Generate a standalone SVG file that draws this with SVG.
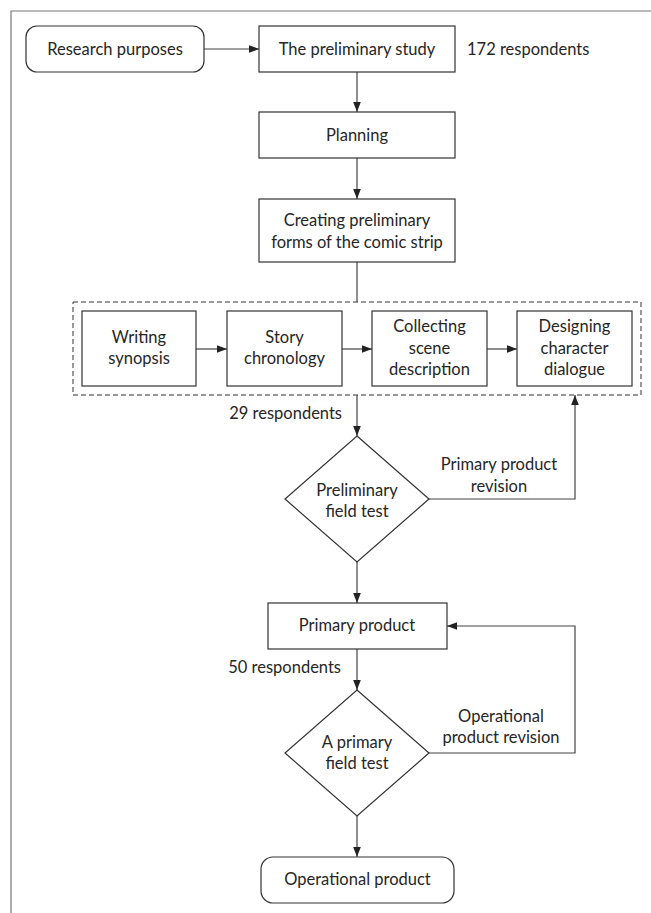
<svg xmlns="http://www.w3.org/2000/svg" width="651" height="913" viewBox="0 0 651 913">
<style>
  .box { fill: #ffffff; stroke: #333333; stroke-width: 1.2; }
  .frame { fill: none; stroke: #777777; stroke-width: 1.2; }
  .dash { fill: none; stroke: #333333; stroke-width: 1; stroke-dasharray: 5 3; }
  .line { fill: none; stroke: #444444; stroke-width: 1.2; }
  text { font-family: "Lato", "Liberation Sans", sans-serif; font-size: 16.5px; fill: #262626; }
  .c { text-anchor: middle; }
  .e { text-anchor: end; }
</style>
<defs>
  <marker id="arr" markerUnits="userSpaceOnUse" markerWidth="10" markerHeight="10" viewBox="0 0 10 10" refX="10" refY="5" orient="auto">
    <path d="M0,1.2 L10,5 L0,8.8 Z" fill="#222222"/>
  </marker>
</defs>
<rect width="651" height="913" fill="#ffffff"/>
<g id="frame">
  <path class="frame" d="M11,913 L11,11 L651,11"/>
</g>
<g id="connectors">
  <line class="line" x1="204" y1="49" x2="259" y2="49" marker-end="url(#arr)"/>
  <line class="line" x1="357" y1="72" x2="357" y2="112" marker-end="url(#arr)"/>
  <line class="line" x1="357" y1="158" x2="357" y2="199" marker-end="url(#arr)"/>
  <line class="line" x1="357" y1="262" x2="357" y2="302"/>
  <line class="line" x1="196" y1="349" x2="227" y2="349" marker-end="url(#arr)"/>
  <line class="line" x1="342" y1="349" x2="372" y2="349" marker-end="url(#arr)"/>
  <line class="line" x1="487" y1="349" x2="517" y2="349" marker-end="url(#arr)"/>
  <line class="line" x1="357" y1="395" x2="357" y2="436" marker-end="url(#arr)"/>
  <path class="line" d="M429,499 L575,499 L575,395" marker-end="url(#arr)"/>
  <line class="line" x1="357" y1="562" x2="357" y2="603" marker-end="url(#arr)"/>
  <path class="line" d="M429,753 L575,753 L575,626 L447,626" marker-end="url(#arr)"/>
  <line class="line" x1="357" y1="649" x2="357" y2="690" marker-end="url(#arr)"/>
  <line class="line" x1="357" y1="816" x2="357" y2="857" marker-end="url(#arr)"/>
</g>
<g id="research-purposes">
  <rect class="box" x="26" y="26" width="178" height="46" rx="11"/>
  <text class="c" x="115" y="55">Research purposes</text>
</g>
<g id="preliminary-study">
  <rect class="box" x="259" y="26" width="196" height="46"/>
  <text class="c" x="357" y="55">The preliminary study</text>
</g>
<g id="label-172">
  <text x="467" y="55">172 respondents</text>
</g>
<g id="planning">
  <rect class="box" x="259" y="112" width="196" height="46"/>
  <text class="c" x="357" y="141">Planning</text>
</g>
<g id="creating">
  <rect class="box" x="259" y="199" width="196" height="63"/>
  <text class="c" x="357" y="226">Creating preliminary</text>
  <text class="c" x="357" y="248">forms of the comic strip</text>
</g>
<g id="comic-steps">
  <rect class="dash" x="73" y="302" width="568" height="93"/>
</g>
<g id="writing-synopsis">
  <rect class="box" x="82" y="311" width="114" height="75"/>
  <text class="c" x="139" y="343">Writing</text>
  <text class="c" x="139" y="364">synopsis</text>
</g>
<g id="story-chronology">
  <rect class="box" x="227" y="311" width="115" height="75"/>
  <text class="c" x="284.5" y="343">Story</text>
  <text class="c" x="284.5" y="364">chronology</text>
</g>
<g id="collecting-scene">
  <rect class="box" x="372" y="311" width="115" height="75"/>
  <text class="c" x="429.5" y="332">Collecting</text>
  <text class="c" x="429.5" y="354">scene</text>
  <text class="c" x="429.5" y="375">description</text>
</g>
<g id="designing-dialogue">
  <rect class="box" x="517" y="311" width="115" height="75"/>
  <text class="c" x="574.5" y="332">Designing</text>
  <text class="c" x="574.5" y="354">character</text>
  <text class="c" x="574.5" y="375">dialogue</text>
</g>
<g id="label-29">
  <text class="e" x="342" y="419">29 respondents</text>
</g>
<g id="preliminary-field-test">
  <polygon class="box" points="357,436 429,499 357,562 285,499"/>
  <text class="c" x="357" y="496">Preliminary</text>
  <text class="c" x="357" y="517">field test</text>
</g>
<g id="label-primary-revision">
  <text class="c" x="499" y="470">Primary product</text>
  <text class="c" x="499" y="492">revision</text>
</g>
<g id="primary-product">
  <rect class="box" x="268" y="603" width="179" height="46"/>
  <text class="c" x="357" y="631">Primary product</text>
</g>
<g id="label-50">
  <text class="e" x="341" y="673">50 respondents</text>
</g>
<g id="primary-field-test">
  <polygon class="box" points="357,690 429,753 357,816 285,753"/>
  <text class="c" x="357" y="748">A primary</text>
  <text class="c" x="357" y="769">field test</text>
</g>
<g id="label-operational-revision">
  <text class="c" x="501" y="722">Operational</text>
  <text class="c" x="501" y="743">product revision</text>
</g>
<g id="operational-product">
  <rect class="box" x="261" y="857" width="193" height="46" rx="12"/>
  <text class="c" x="357.5" y="885">Operational product</text>
</g>
</svg>
